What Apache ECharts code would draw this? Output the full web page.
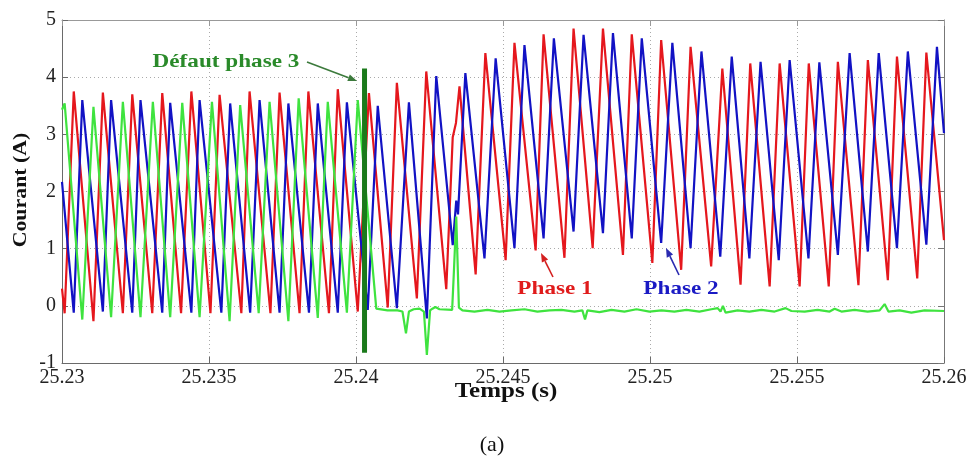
<!DOCTYPE html>
<html><head><meta charset="utf-8">
<script src="https://cdn.jsdelivr.net/npm/echarts@6/dist/echarts.min.js"></script>
<style>html,body{margin:0;padding:0;background:#fff}#c{width:975px;height:468px}</style>
</head><body><div id="c"></div>
<script>
// Time axis (s) and current axis (A)
const xRange = [25.23, 25.26];
const xStep = 0.005;
const yRange = [-1, 5];
const yStep = 1;

// Phase 1 (red): [time s, current A] at peaks / troughs
const phase1 = [
[25.23000,0.30],[25.23009,-0.13],[25.23040,3.75],[25.23107,-0.27],[25.23139,3.73],[25.23207,-0.13],
[25.23239,3.70],[25.23307,-0.13],[25.23341,3.72],[25.23405,-0.13],[25.23440,3.75],[25.23505,-0.13],
[25.23536,3.69],[25.23610,-0.13],[25.23638,3.75],[25.23709,-0.13],[25.23740,3.73],[25.23808,-0.13],
[25.23838,3.75],[25.23908,-0.13],[25.23938,3.79],[25.24006,-0.10],[25.24044,3.72],[25.24108,-0.03],
[25.24139,3.90],[25.24207,0.13],[25.24239,4.10],[25.24307,0.29],[25.24329,2.95],[25.24340,3.20],
[25.24352,3.84],[25.24407,0.55],[25.24440,4.42],[25.24509,0.80],[25.24539,4.60],[25.24611,0.97],
[25.24638,4.75],[25.24709,0.84],[25.24740,4.85],[25.24805,1.01],[25.24840,4.85],[25.24908,0.89],
[25.24938,4.75],[25.25008,0.75],[25.25038,4.65],[25.25106,0.63],[25.25138,4.53],[25.25208,0.69],
[25.25246,4.15],[25.25308,0.37],[25.25341,4.24],[25.25407,0.34],[25.25441,4.24],[25.25509,0.34],
[25.25540,4.24],[25.25608,0.34],[25.25639,4.27],[25.25709,0.36],[25.25741,4.30],[25.25809,0.45],
[25.25840,4.36],[25.25909,0.48],[25.25940,4.43],[25.26000,1.15]
];

// Phase 2 (blue)
const phase2 = [
[25.23000,2.17],[25.23040,-0.12],[25.23069,3.60],[25.23139,-0.10],[25.23167,3.60],[25.23239,-0.12],
[25.23267,3.60],[25.23341,-0.12],[25.23368,3.55],[25.23440,-0.12],[25.23468,3.60],[25.23542,-0.12],
[25.23572,3.54],[25.23640,-0.12],[25.23672,3.60],[25.23740,-0.12],[25.23770,3.54],[25.23840,-0.12],
[25.23870,3.54],[25.23938,-0.12],[25.23969,3.56],[25.24040,-0.07],[25.24074,3.50],[25.24139,-0.04],
[25.24180,3.56],[25.24241,-0.22],[25.24273,4.02],[25.24329,1.06],[25.24341,1.84],[25.24347,1.60],
[25.24372,4.07],[25.24437,0.83],[25.24475,4.33],[25.24539,1.01],[25.24573,4.56],[25.24638,1.18],
[25.24673,4.68],[25.24740,1.30],[25.24774,4.74],[25.24840,1.27],[25.24874,4.77],[25.24938,1.18],
[25.24972,4.68],[25.25038,1.10],[25.25076,4.60],[25.25138,1.01],[25.25175,4.45],[25.25239,0.86],
[25.25278,4.36],[25.25338,0.83],[25.25376,4.27],[25.25438,0.80],[25.25475,4.30],[25.25539,0.83],
[25.25576,4.26],[25.25639,0.89],[25.25679,4.42],[25.25741,0.95],[25.25778,4.42],[25.25840,1.01],
[25.25877,4.45],[25.25940,1.07],[25.25976,4.53],[25.26000,3.02]
];

// Phase 3 (green), faulted at ~25.2403 s
const phase3 = [
[25.23000,3.43],[25.23009,3.54],[25.23069,-0.24],[25.23107,3.48],[25.23167,-0.20],[25.23207,3.57],
[25.23267,-0.20],[25.23309,3.57],[25.23368,-0.20],[25.23409,3.55],[25.23468,-0.20],[25.23510,3.57],
[25.23570,-0.27],[25.23606,3.51],[25.23669,-0.13],[25.23706,3.57],[25.23770,-0.27],[25.23805,3.63],
[25.23870,-0.21],[25.23904,3.57],[25.23969,-0.12],[25.24006,3.60],[25.24069,-0.05],[25.24107,-0.08],
[25.24141,-0.08],[25.24158,-0.10],[25.24170,-0.48],[25.24180,-0.10],[25.24196,-0.06],[25.24216,-0.05],
[25.24231,-0.10],[25.24241,-0.86],[25.24252,-0.08],[25.24260,-0.05],[25.24270,-0.02],[25.24284,-0.06],
[25.24327,-0.07],[25.24333,0.60],[25.24341,1.56],[25.24350,-0.03],[25.24362,-0.08],[25.24403,-0.10],
[25.24447,-0.07],[25.24488,-0.10],[25.24529,-0.08],[25.24573,-0.06],[25.24617,-0.10],[25.24658,-0.08],
[25.24699,-0.07],[25.24743,-0.10],[25.24770,-0.08],[25.24779,-0.24],[25.24787,-0.08],[25.24828,-0.11],
[25.24869,-0.07],[25.24913,-0.10],[25.24954,-0.06],[25.24998,-0.10],[25.25039,-0.08],[25.25083,-0.10],
[25.25124,-0.07],[25.25168,-0.10],[25.25209,-0.06],[25.25230,-0.04],[25.25240,-0.10],[25.25248,0.00],
[25.25257,-0.12],[25.25298,-0.08],[25.25338,-0.10],[25.25379,-0.07],[25.25424,-0.10],[25.25461,-0.04],
[25.25481,-0.09],[25.25526,-0.10],[25.25570,-0.07],[25.25611,-0.10],[25.25628,-0.05],[25.25651,-0.10],
[25.25696,-0.07],[25.25740,-0.10],[25.25781,-0.08],[25.25798,0.03],[25.25811,-0.10],[25.25849,-0.08],
[25.25889,-0.12],[25.25934,-0.08],[25.26000,-0.09]
];

// Fault marker (thick dark green bar)
const faultBar = [[25.24029, 4.15], [25.24029, -0.82]];

const chart = echarts.init(document.getElementById('c'), null, {renderer: 'canvas'});
const FONT = "'Liberation Serif', 'Times New Roman', serif";
const axisCol = '#6a6a6a';

function arrow(x1, y1, x2, y2, color) {
  const ang = Math.atan2(y2 - y1, x2 - x1);
  const L = 9, W = 3.5;
  const bx = x2 - L * Math.cos(ang), by = y2 - L * Math.sin(ang);
  const px = -Math.sin(ang) * W, py = Math.cos(ang) * W;
  return [
    {type: 'line', shape: {x1: x1, y1: y1, x2: bx, y2: by}, style: {stroke: color, lineWidth: 1.6}, z: 100},
    {type: 'polygon', shape: {points: [[x2, y2], [bx + px, by + py], [bx - px, by - py]]}, style: {fill: color}, z: 100}
  ];
}
function label(text, x, y, size, color, weight, sx, rot) {
  return {type: 'text', x: x, y: y, rotation: rot || 0, scaleX: sx || 1, z: 100,
    style: {text: text, fill: color, font: (weight || 'normal') + ' ' + size + 'px ' + FONT,
      textAlign: 'center', textVerticalAlign: 'middle'}};
}

const lineSeries = (name, data, color, z) => ({
  name: name, type: 'line', data: data, showSymbol: false, symbol: 'none',
  lineStyle: {color: color, width: 2.2}, itemStyle: {color: color}, z: z, animation: false
});

chart.setOption({
  animation: false,
  backgroundColor: '#fff',
  grid: {left: 62, right: 31, top: 20, bottom: 105},
  xAxis: [{
    type: 'value', min: xRange[0], max: xRange[1], interval: xStep,
    axisLine: {onZero: false, lineStyle: {color: axisCol, width: 1}},
    axisTick: {inside: true, length: 6, lineStyle: {color: axisCol}},
    axisLabel: {color: '#222', fontFamily: FONT, fontSize: 20, margin: 5,
      formatter: v => String(+v.toFixed(3))},
    splitLine: {show: true, lineStyle: {color: '#aaa', type: [1, 3], width: 1}}
  }, {
    type: 'value', position: 'top', min: xRange[0], max: xRange[1], interval: xStep,
    axisLine: {show: true, onZero: false, lineStyle: {color: '#999'}},
    axisTick: {inside: true, length: 6, lineStyle: {color: '#999'}},
    axisLabel: {show: false}, splitLine: {show: false}
  }],
  yAxis: [{
    type: 'value', min: yRange[0], max: yRange[1], interval: yStep,
    axisLine: {show: true, onZero: false, lineStyle: {color: axisCol, width: 1}},
    axisTick: {show: true, inside: true, length: 6, lineStyle: {color: axisCol}},
    axisLabel: {color: '#222', fontFamily: FONT, fontSize: 20, margin: 6},
    splitLine: {show: true, lineStyle: {color: '#aaa', type: [1, 3], width: 1}}
  }, {
    type: 'value', position: 'right', min: yRange[0], max: yRange[1], interval: yStep,
    axisLine: {show: true, onZero: false, lineStyle: {color: '#777'}},
    axisTick: {show: true, inside: true, length: 6, lineStyle: {color: '#777'}},
    axisLabel: {show: false}, splitLine: {show: false}
  }],
  series: [
    lineSeries('Phase 1', phase1, '#e5171d', 3),
    lineSeries('Phase 2', phase2, '#1212c4', 4),
    lineSeries('Phase 3', phase3, '#3fe33f', 5),
    {name: 'Défaut', type: 'line', data: faultBar, showSymbol: false, symbol: 'none',
      lineStyle: {color: '#1b7a1b', width: 5, cap: 'butt'}, z: 6, animation: false}
  ],
  graphic: [
    label('Courant (A)', 21, 190, 19, '#111', 'bold', 1.15, Math.PI / 2),
    label('Temps (s)', 506, 392, 20, '#111', 'bold', 1.25),
    label('(a)', 492, 445, 22, '#111', 'normal', 1),
    label('Défaut phase 3', 226, 62, 19, '#2a8a2a', 'bold', 1.22),
    ...arrow(307, 62, 357, 81, '#3c7a3c'),
    label('Phase 1', 555, 289, 19, '#e01b1b', 'bold', 1.22),
    ...arrow(553, 277, 541, 253, '#d42020'),
    label('Phase 2', 681, 289, 19, '#1a1ac4', 'bold', 1.22),
    ...arrow(679, 275, 666, 248, '#2a2ab0')
  ]
});
</script></body></html>
